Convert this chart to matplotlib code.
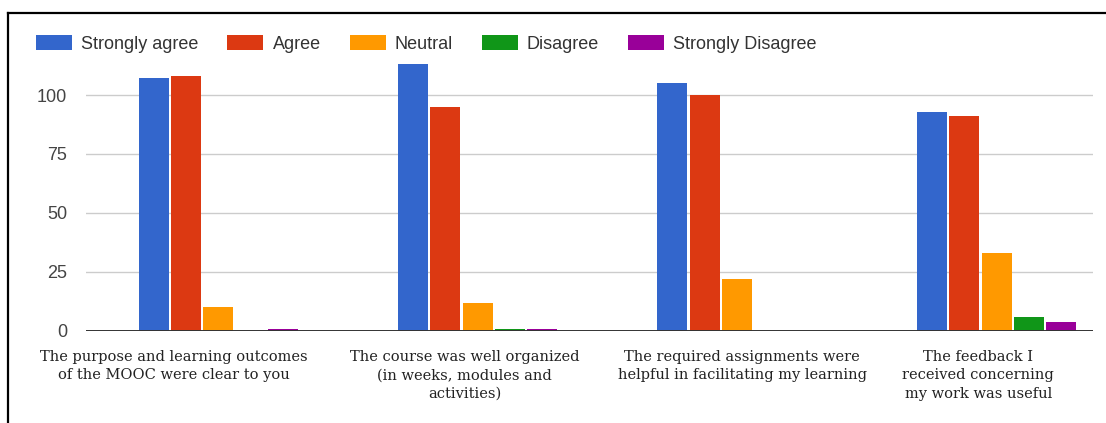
import numpy as np
import matplotlib.pyplot as plt
from matplotlib.patches import Patch
from matplotlib.lines import Line2D

categories = [
    "The purpose and learning outcomes\nof the MOOC were clear to you",
    "The course was well organized\n(in weeks, modules and\nactivities)",
    "The required assignments were\nhelpful in facilitating my learning",
    "The feedback I\nreceived concerning\nmy work was useful",
]
series_names = ["Strongly agree", "Agree", "Neutral", "Disagree", "Strongly Disagree"]
strongly_agree = [107, 113, 105, 93]
agree = [108, 95, 100, 91]
neutral = [10, 12, 22, 33]
disagree = [0, 1, 0, 6]
strongly_disagree = [1, 1, 0, 4]
yticks = [0, 25, 50, 75, 100]

colors = ["#3366cc", "#dc3912", "#ff9900", "#109618", "#990099"]
values = [strongly_agree, agree, neutral, disagree, strongly_disagree]

fig = plt.figure(figsize=(11.06, 4.23), dpi=100)
ax = fig.add_axes([0.0778, 0.2175, 0.9105, 0.6416])

x = np.arange(len(categories))
pitch = 0.1245
width = 0.1156
for i, (vals, c) in enumerate(zip(values, colors)):
    ax.bar(x + (i - 2) * pitch, vals, width=width, color=c, zorder=3)

ax.set_xlim(-0.509, 3.372)
ax.set_ylim(0, 115)
ax.set_yticks(yticks)
ax.set_yticklabels([str(t) for t in yticks], fontsize=13, color="#444444",
                   family="Liberation Sans")
ax.tick_params(axis="y", length=0, pad=13.5)
ax.set_xticks([])
ax.grid(axis="y", color="#cccccc", lw=1, zorder=0)
ax.axhline(0, color="#333333", lw=1.4, zorder=4)
for s in ax.spines.values():
    s.set_visible(False)

# category labels, nudged a bit like in the screenshot
label_dx = [-0.17, -0.05, 0.02, -0.07]
for i, lab in enumerate(categories):
    ax.text(i + label_dx[i], -0.07, lab, transform=ax.get_xaxis_transform(),
            ha="center", va="top", fontsize=10.5, family="DejaVu Serif",
            color="#222222", linespacing=1.4)

handles = [Patch(facecolor=c, label=n) for c, n in zip(colors, series_names)]
leg = fig.legend(handles=handles, loc="center left", bbox_to_anchor=(0.0325, 0.896),
                 ncol=5, frameon=False, borderaxespad=0, borderpad=0,
                 handlelength=2.0, handleheight=0.85, handletextpad=0.5,
                 columnspacing=1.6, prop={"family": "Liberation Sans", "size": 13})
for t in leg.get_texts():
    t.set_color("#333333")

# black frame lines at top and left
fig.add_artist(Line2D([0.0072, 1.0], [0.969, 0.969], color="black", lw=1.6,
                      transform=fig.transFigure))
fig.add_artist(Line2D([0.0072, 0.0072], [0.0, 0.969], color="black", lw=1.6,
                      transform=fig.transFigure))

fig.savefig("out.png", dpi=100)
